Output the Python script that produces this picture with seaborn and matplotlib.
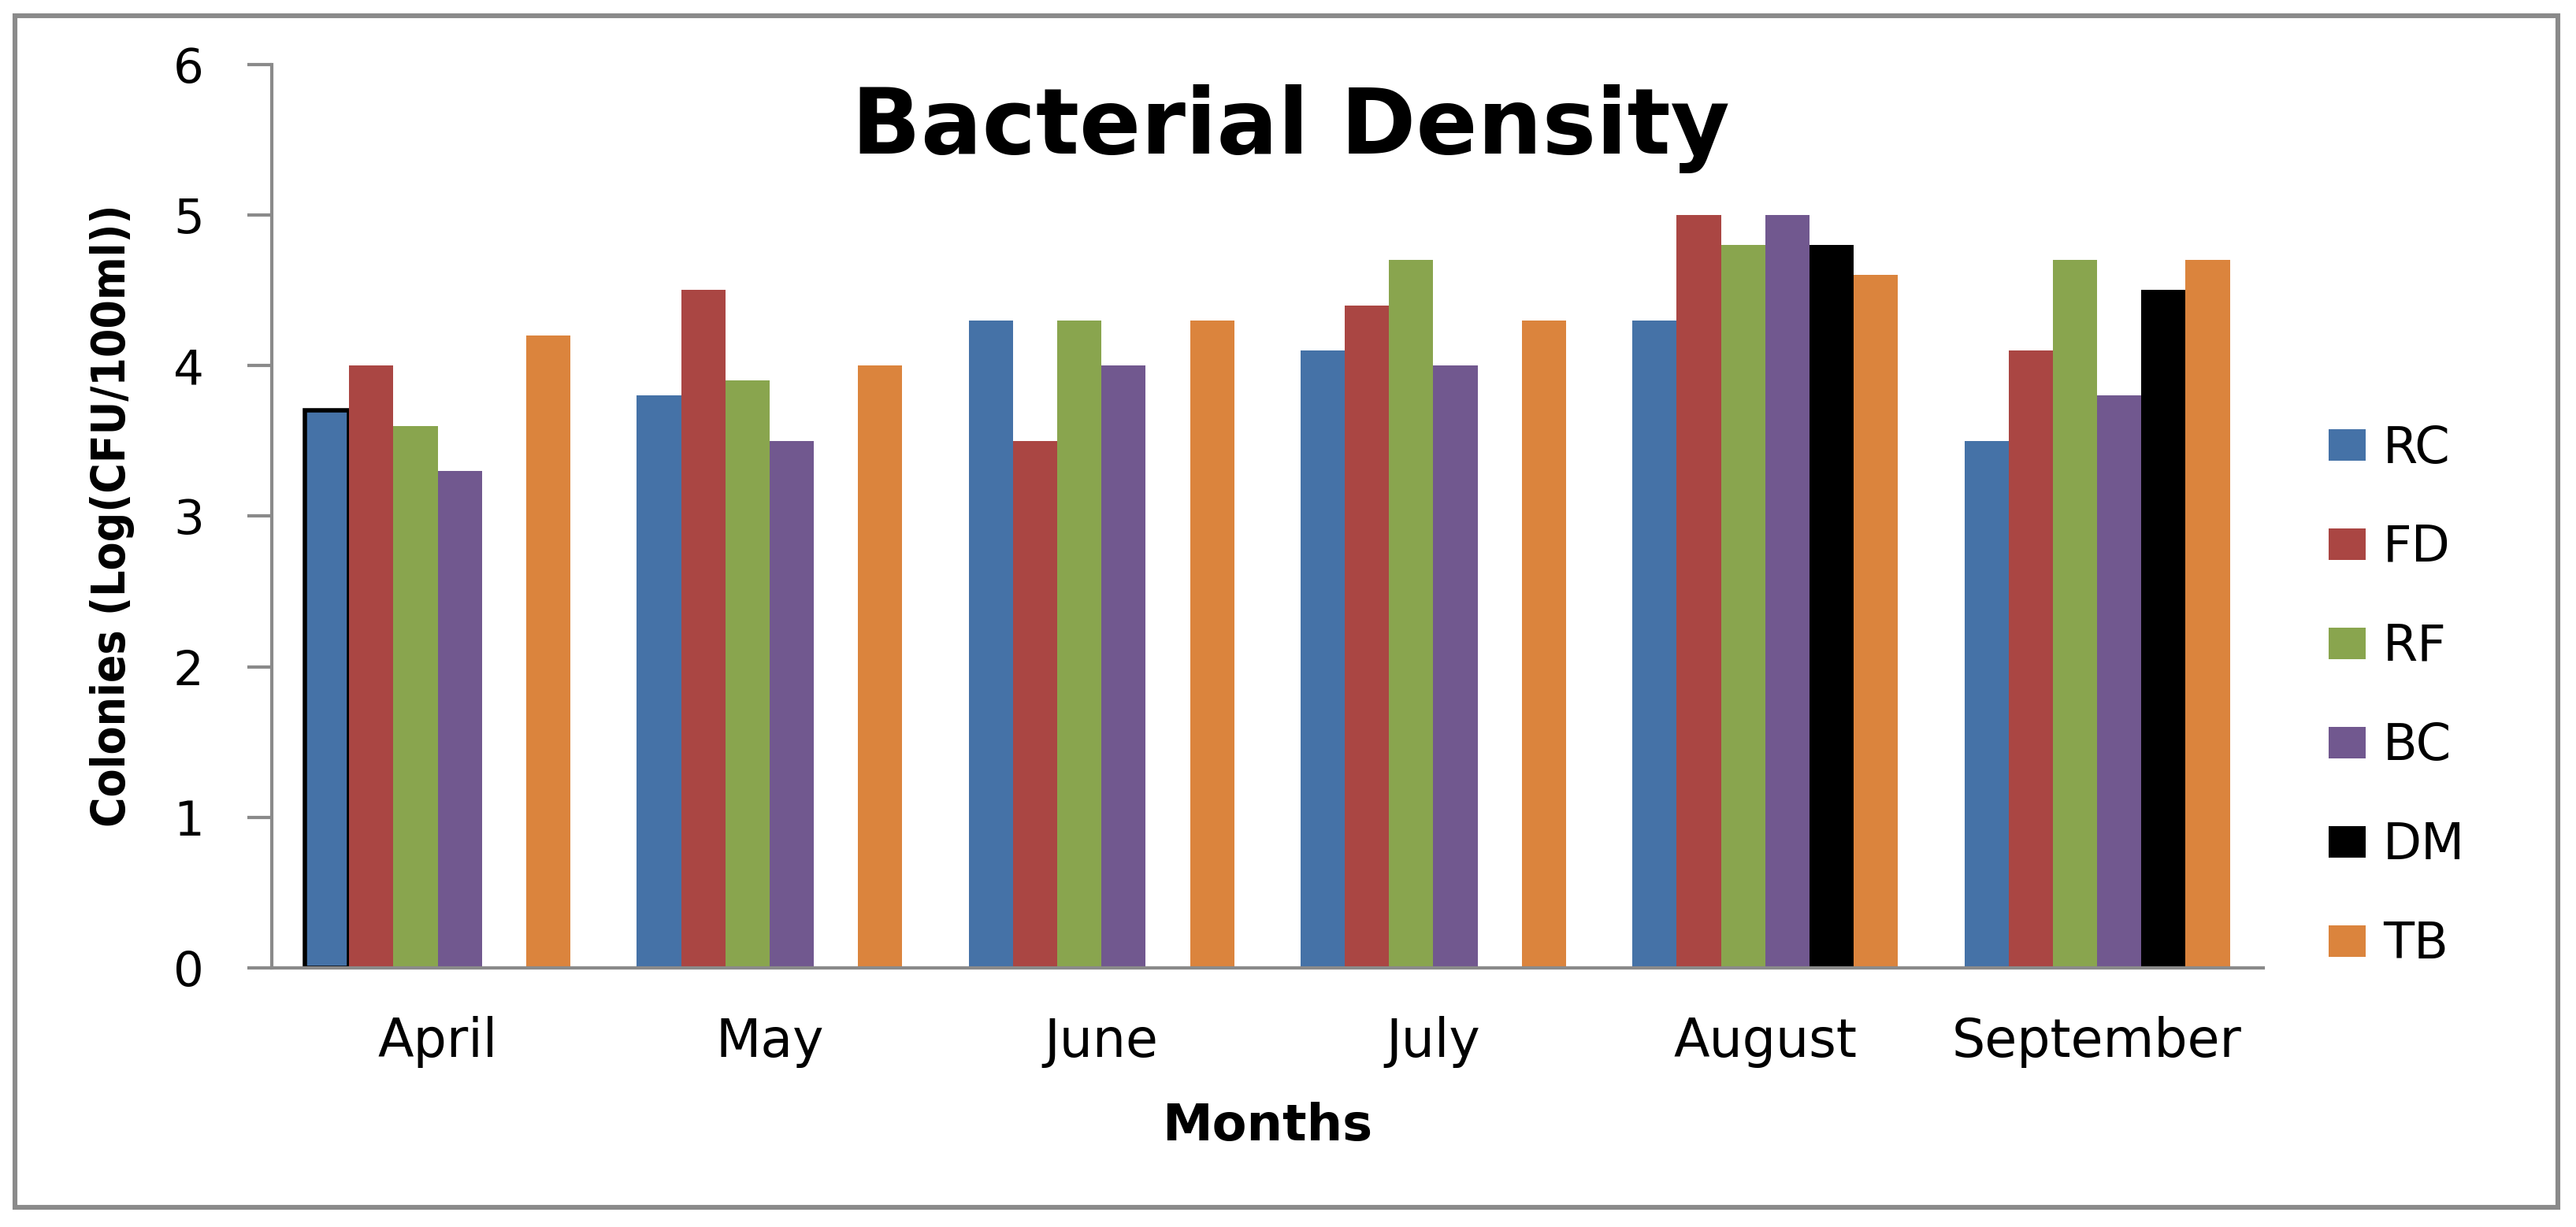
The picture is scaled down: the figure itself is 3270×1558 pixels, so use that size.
import numpy as np
import pandas as pd
import matplotlib
matplotlib.use("Agg")
import matplotlib.pyplot as plt
from matplotlib.patches import Rectangle
import seaborn as sns

months = ["April", "May", "June", "July", "August", "September"]
series = ["RC", "FD", "RF", "BC", "DM", "TB"]
rc = [3.7, 3.8, 4.3, 4.1, 4.3, 3.5]
fd = [4.0, 4.5, 3.5, 4.4, 5.0, 4.1]
rf = [3.6, 3.9, 4.3, 4.7, 4.8, 4.7]
bc = [3.3, 3.5, 4.0, 4.0, 5.0, 3.8]
dm = [np.nan, np.nan, np.nan, np.nan, 4.8, 4.5]
tb = [4.2, 4.0, 4.3, 4.3, 4.6, 4.7]
colors = ["#4572A7", "#AA4643", "#89A54E", "#71588F", "#000000", "#DB843D"]

values = {"RC": rc, "FD": fd, "RF": rf, "BC": bc, "DM": dm, "TB": tb}
rows = []
for s in series:
    for m, v in zip(months, values[s]):
        rows.append({"Month": m, "Series": s, "Value": v})
df = pd.DataFrame(rows)

sns.set_theme(style="white")
plt.rcParams['font.family'] = ['DejaVu Sans']
plt.rcParams['text.color'] = 'black'
plt.rcParams['xtick.labelcolor'] = 'black'
plt.rcParams['ytick.labelcolor'] = 'black'

fig = plt.figure(figsize=(16.35, 7.79), dpi=200)
ax = fig.add_axes([0.1055, 0.2112, 0.8785 - 0.1055, 0.9476 - 0.2112])

sns.barplot(data=df, x="Month", y="Value", hue="Series", order=months,
            hue_order=series, palette=colors, errorbar=None, width=0.8,
            saturation=1, ax=ax, linewidth=0, legend=True)

# black edge on April RC bar
first = ax.containers[0].patches[0]
first.set_edgecolor("black")
first.set_linewidth(2.0)

ax.set_xlim(-0.5, 5.5)
ax.set_ylim(0, 6)
ax.set_yticks([0, 1, 2, 3, 4, 5, 6])
ax.set_xlabel("")
ax.set_ylabel("")
for s in ["top", "right"]:
    ax.spines[s].set_visible(False)
for s in ["left", "bottom"]:
    ax.spines[s].set_color("#8a8a8a")
    ax.spines[s].set_linewidth(1.5)
ax.tick_params(axis="y", which="both", left=True, length=11, width=1.5,
               color="#8a8a8a", pad=20, labelsize=22, labelcolor="black")
ax.tick_params(axis="x", which="both", bottom=False, length=0, pad=22,
               labelsize=24, labelcolor="black")

leg = ax.legend(loc="center left", bbox_to_anchor=(0.904, 0.4323),
                bbox_transform=fig.transFigure, frameon=False, fontsize=23,
                labelspacing=1.0, handlelength=0.73, handleheight=0.58,
                handletextpad=0.35, borderpad=0, borderaxespad=0)
for t in leg.get_texts():
    t.set_color("black")

fig.text(0.501, 0.8748, "Bacterial Density", ha="center", va="baseline",
         fontsize=41.5, fontweight="bold", color="black")
fig.text(0.0435, 0.5796, "Colonies (Log(CFU/100ml))", ha="center", va="center",
         rotation=90, fontsize=21, fontweight="bold", fontstretch="condensed",
         color="black")
fig.text(0.492, 0.0706, "Months", ha="center", va="baseline", fontsize=23,
         fontweight="bold", color="black")

fig.patches.append(Rectangle((0.0058, 0.016), 0.993 - 0.0058, 0.9874 - 0.016,
                             transform=fig.transFigure, fill=False,
                             edgecolor="#8a8a8a", linewidth=2.2))

fig.savefig("out.png", dpi=200, facecolor="white")
